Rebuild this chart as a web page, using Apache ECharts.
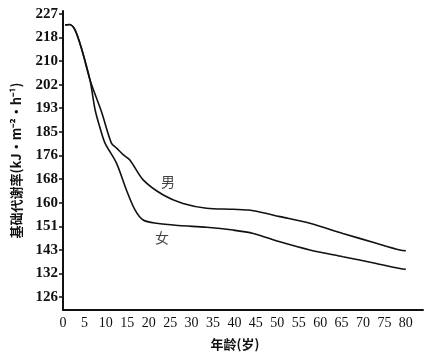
<!DOCTYPE html>
<html>
<head>
<meta charset="utf-8">
<script src="https://cdn.jsdelivr.net/npm/echarts@6/dist/echarts.min.js"></script>
<style>html,body{margin:0;padding:0;background:#fff}#c{width:432px;height:356px}</style>
</head>
<body>
<div id="c"></div>
<script>
// Data
var xTickLabels = [0,5,10,15,20,25,30,35,40,45,50,55,60,65,70,75,80];
var yTickLabels = ['126','132','143','151','160','168','176','185','193','202','210','218','227'];

var maleAge  = [0.5, 1.5, 2.8, 4.4, 6.3, 9.0, 11.3, 12.5, 14.1, 15.6, 18.7, 23.4, 28.0, 33.5, 39.7, 44.4, 50.6, 57.6, 65.3, 73.1, 78.6, 80.0];
var maleRate = [223.0, 223.2, 221.3, 214.2, 203.4, 192.0, 180.9, 179.1, 176.7, 174.9, 167.8, 162.4, 159.4, 157.7, 157.3, 156.8, 154.7, 152.3, 148.7, 145.2, 142.8, 142.5];

var femaleAge  = [0.5, 1.5, 2.8, 4.4, 6.3, 7.5, 8.7, 9.8, 12.5, 14.8, 16.8, 18.7, 21.8, 27.0, 33.5, 39.7, 44.4, 50.6, 57.6, 65.3, 73.1, 78.6, 80.0];
var femaleRate = [223.0, 223.2, 221.3, 214.2, 203.4, 192.7, 186.0, 180.9, 173.7, 164.2, 157.1, 153.5, 152.3, 151.5, 150.9, 149.9, 148.7, 145.7, 142.8, 140.4, 138.0, 136.2, 135.9];

var seriesNames = ['男', '女'];
var labelAge  = [24.5, 23.1];
var labelRate = [167.0, 147.1];

var yStep = (227 - 126) / (yTickLabels.length - 1);
var yTickValues = yTickLabels.map(function (_, i) { return 126 + i * yStep; });

function pairs(xs, ys) { return xs.map(function (x, i) { return [x, ys[i]]; }); }

var chart = echarts.init(document.getElementById('c'), null, { renderer: 'canvas' });
var lineStyle = { color: '#111', width: 1.6 };
chart.setOption({
  animation: false,
  backgroundColor: '#fff',
  grid: { left: 63, right: 9, top: 11, bottom: 46, containLabel: false },
  xAxis: {
    type: 'value', min: 0, max: 84,
    name: '年龄(岁)', nameLocation: 'middle', nameGap: 28,
    nameTextStyle: { fontFamily: 'Noto Sans CJK SC', fontWeight: 'bold', fontSize: 13, color: '#111', padding: [0, 16, 0, 0] },
    axisLine: { lineStyle: { color: '#111', width: 2 } },
    axisTick: { show: false },
    splitLine: { show: false },
    axisLabel: {
      customValues: xTickLabels,
      color: '#111', fontFamily: 'Liberation Serif', fontSize: 14, margin: 6
    }
  },
  yAxis: {
    type: 'value', min: 121.4, max: 228,
    name: '基础代谢率(kJ·m⁻²·h⁻¹)', nameLocation: 'middle', nameGap: 40, nameRotate: 90,
    nameTextStyle: { fontFamily: 'Noto Sans CJK SC', fontWeight: 'bold', fontSize: 13, color: '#111' },
    axisLine: { show: true, lineStyle: { color: '#111', width: 2 } },
    axisTick: { show: true, customValues: yTickValues, length: 4, lineStyle: { color: '#111', width: 1.5 } },
    splitLine: { show: false },
    axisLabel: {
      customValues: yTickValues,
      formatter: function (v) { return yTickLabels[Math.round((v - 126) / yStep)]; },
      color: '#111', fontFamily: 'Liberation Serif', fontWeight: 'bold', fontSize: 15, margin: 5
    }
  },
  series: [
    {
      name: seriesNames[0], type: 'line', smooth: 0.3, symbol: 'none',
      lineStyle: lineStyle, data: pairs(maleAge, maleRate)
    },
    {
      name: seriesNames[1], type: 'line', smooth: 0.3, symbol: 'none',
      lineStyle: lineStyle, data: pairs(femaleAge, femaleRate)
    },
    {
      type: 'scatter', symbolSize: 1, itemStyle: { color: 'rgba(0,0,0,0)' },
      label: {
        show: true, position: 'inside',
        formatter: function (p) { return seriesNames[p.dataIndex]; },
        color: '#111', fontFamily: 'Noto Sans CJK SC', fontSize: 14
      },
      data: pairs(labelAge, labelRate)
    }
  ]
});
</script>
</body>
</html>
